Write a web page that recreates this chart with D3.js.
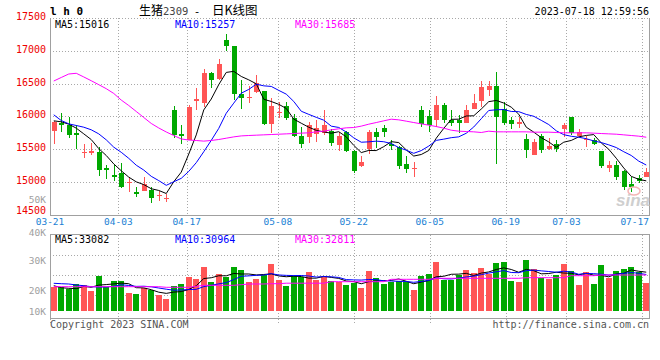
<!DOCTYPE html>
<html><head><meta charset="utf-8">
<script src="https://cdn.jsdelivr.net/npm/d3@7"></script>
<style>html,body{margin:0;padding:0;background:#fff;}svg{display:block;}</style>
</head><body><svg id="c" width="660" height="360"></svg>
<script>
// ---------- data ----------
const dates = ["03-21","03-22","03-23","03-24","03-27","03-28","03-29","03-30","03-31","04-03","04-04","04-06","04-07","04-10","04-11","04-12","04-13","04-14","04-17","04-18","04-19","04-20","04-21","04-24","04-25","04-26","04-27","04-28","05-04","05-05","05-08","05-09","05-10","05-11","05-12","05-15","05-16","05-17","05-18","05-19","05-22","05-23","05-24","05-25","05-26","05-29","05-30","05-31","06-01","06-02","06-05","06-06","06-07","06-08","06-09","06-12","06-13","06-14","06-15","06-16","06-19","06-20","06-21","06-26","06-27","06-28","06-29","06-30","07-03","07-04","07-05","07-06","07-07","07-10","07-11","07-12","07-13","07-14","07-17","07-18"];
const open = [15782,15904,15869,15742,15441,15436,15451,15207,15100,15131,14978,14846,14856,14881,14785,14749,16103,15726,15640,16235,16206,16653,16566,17157,17080,16347,16271,16368,16378,15889,16052,16159,15966,15701,15686,15731,15747,15772,15558,15752,15462,15238,15497,15752,15828,15574,15533,15278,15197,16103,16011,15940,16179,15945,15940,15904,16108,16230,16398,16469,16118,15950,15879,15660,15406,15691,15507,15569,15798,15981,15696,15645,15630,15462,15217,15263,15171,14973,15060,15080];
const high = [15920,16057,15986,15869,15574,15589,15523,15253,15253,15283,15065,14922,15080,14922,14861,14810,16164,15859,16169,16424,16725,16668,16872,17253,17080,16546,16469,16637,16378,16276,16210,16215,16037,15843,15915,15940,16088,15808,15762,15772,15487,15395,15787,15818,15864,15640,15548,15395,15294,16164,16088,16302,16205,16103,16016,16179,16347,16531,16531,16668,16210,15996,15986,15726,15660,15726,15670,15640,15894,15981,15808,15706,15670,15462,15324,15324,15187,15080,15100,15207];
const low = [15574,15767,15665,15497,15360,15401,15090,15049,15009,14902,14851,14769,14856,14673,14708,14698,15675,15579,15640,16093,16138,16429,16556,16999,16245,16108,16200,16357,15864,15742,15971,15945,15680,15513,15599,15609,15716,15548,15472,15451,15131,15222,15426,15513,15680,15482,15197,15131,15070,15838,15767,15838,15904,15854,15742,15894,16108,16139,16302,15268,15864,15803,15813,15360,15406,15436,15487,15451,15680,15716,15691,15528,15563,15207,15151,15029,14876,14841,14978,15070];
const close = [15915,15864,15711,15716,15451,15477,15177,15182,15075,14927,14993,14815,14973,14759,14795,14759,15716,15706,16139,16256,16664,16551,16805,17070,16337,16276,16291,16505,15889,16164,16062,15976,15691,15574,15859,15823,15859,15589,15691,15467,15171,15309,15752,15680,15767,15553,15238,15192,15212,15884,15859,16179,15940,15904,15894,16103,16195,16454,16469,15986,15904,15879,15915,15482,15609,15482,15553,15502,15874,15742,15757,15660,15569,15233,15263,15070,14917,14927,15009,15146];
const volume = [21323,21323,20463,22117,21886,19852,24962,21323,23209,23209,18867,18374,20992,20232,17882,15911,21555,22216,24532,23970,27840,22878,25524,24433,27840,26947,22878,23970,25194,28832,23540,21555,24863,24631,26186,23540,24433,23209,22977,21886,22448,20992,26616,24300,22216,22977,23308,22779,20232,24962,25524,29593,23540,23540,25194,26848,25954,27608,25425,29262,29494,23308,22977,30255,27079,24300,23771,25194,28832,26616,21886,26186,22216,28502,24102,26616,27278,27840,26285,22646];
const ma5Head = [15930,15915,15879,15818];
const ma10Head = [16022,15935,15884,15859,15833,15793,15731,15640,15528];
const ma30 = [16538,16592,16645,16656,16600,16542,16482,16421,16348,16247,16164,16073,15981,15890,15821,15760,15706,15653,15637,15630,15620,15630,15645,15665,15685,15700,15706,15711,15716,15721,15726,15731,15736,15742,15747,15762,15772,15792,15808,15823,15828,15849,15879,15904,15930,15955,15945,15925,15904,15884,15864,15843,15818,15787,15772,15767,15762,15752,15772,15762,15762,15762,15762,15762,15757,15757,15757,15752,15747,15747,15747,15747,15742,15736,15731,15726,15716,15706,15696,15680];
const volMa5Head = [21654,20992,20794,20662];
const volMa10Head = [22448,22316,22216,21886,21654,21323,21224,21224,21456];
const volMa30 = [21323,21323,21323,21323,21323,21323,21323,21323,21323,21323,21323,21323,21323,21323,21323,21125,21125,21125,21125,21456,21786,21786,21786,21786,21786,21985,22216,22216,22216,22316,22316,22480,22480,22480,22480,22480,22480,22977,22977,22977,22977,22977,22977,22977,22977,23771,23771,23771,23771,23771,23771,24102,24102,24102,24102,24102,24102,24102,24102,24102,24102,24102,24102,24300,24300,24300,24300,24300,24300,24962,24962,24962,24962,25194,25194,25194,25194,25194,25194,25194];
const dateTicks = ["03-21","04-03","04-17","05-08","05-22","06-05","06-19","07-03","07-17"];
const priceTicks = [14500,15000,15500,16000,16500,17000,17500];
const volTicks = [10000,20000,30000,40000,50000];
const priceLegend = [["MA5:","15016"],["MA10:","15257"],["MA30:","15685"]];
const volLegend = [["MA5:","33082"],["MA10:","30964"],["MA30:","32811"]];

// ---------- layout ----------
const L = 50, R = 650, pTop = 18, pBot = 214.5, vTop = 234.5, vBot = 318.5;
const RED = "#ff5555", GREEN = "#00a800", GRID = "#a8a8a8", FRAME = "#a0a0a0";
const lineColors = ["#000", "#0000ff", "#ff00ff"];
const MONO = "'DejaVu Sans Mono', 'Liberation Mono', monospace";

const svg = d3.select("#c");
const idx = d3.range(dates.length);
const xB = d3.scaleBand().domain(idx).range([L, R]);
const xC = i => xB(i) + xB.bandwidth() / 2;
const xG = d3.scaleLinear().domain([0, dates.length - 1]).range([L, R]);
const yP = d3.scaleLinear().domain([14500, 17500]).range([pBot, pTop]);
const yV = d3.scaleLinear().domain([10000, 20000, 50000]).range([311, 290.7, 200]);

function movingAvg(vals, n, head) {
  return vals.map((v, i) => i < n - 1 ? head[i] : d3.mean(vals.slice(i - n + 1, i + 1)));
}
const ma5 = movingAvg(close, 5, ma5Head);
const ma10 = movingAvg(close, 10, ma10Head);
const vma5 = movingAvg(volume, 5, volMa5Head);
const vma10 = movingAvg(volume, 10, volMa10Head);

// ---------- grids & frames ----------
const g = svg.append("g").attr("shape-rendering", "crispEdges");
g.selectAll(".hp").data(priceTicks.filter(v => v > 14500)).join("line")
  .attr("x1", L).attr("x2", R)
  .attr("y1", d => Math.round(yP(d)) + 0.5).attr("y2", d => Math.round(yP(d)) + 0.5)
  .attr("stroke", GRID).attr("stroke-dasharray", "1,2");
const tickIdx = dateTicks.map(d => dates.indexOf(d));
tickIdx.forEach(t => {
  const x = Math.round(xG(t)) + 0.5;
  g.append("line").attr("x1", x).attr("x2", x).attr("y1", pTop).attr("y2", pBot)
    .attr("stroke", GRID).attr("stroke-dasharray", "1,2");
  g.append("line").attr("x1", x).attr("x2", x).attr("y1", vTop).attr("y2", vBot + 4)
    .attr("stroke", GRID).attr("stroke-dasharray", "1,2");
});
[255.5, 275.5, 295.5].forEach(y => {
  g.append("line").attr("x1", L).attr("x2", R).attr("y1", y).attr("y2", y)
    .attr("stroke", GRID).attr("stroke-dasharray", "1,2");
});
g.append("path").attr("d", `M${L + 0.5},${pTop}V${pBot + 0.5}H${R - 0.5}V${pTop}`)
  .attr("fill", "none").attr("stroke", FRAME);
g.append("rect").attr("x", L + 0.5).attr("y", vTop).attr("width", R - L - 1).attr("height", vBot - vTop)
  .attr("fill", "none").attr("stroke", FRAME);

// ---------- candles ----------
const bw = 5;
const cg = svg.append("g").attr("shape-rendering", "crispEdges");
idx.forEach(i => {
  const up = close[i] >= open[i];
  const col = up ? RED : GREEN;
  const cx = Math.round(xC(i)) + 0.5;
  cg.append("line").attr("x1", cx).attr("x2", cx)
    .attr("y1", yP(high[i])).attr("y2", yP(low[i])).attr("stroke", col);
  const y1 = yP(Math.max(open[i], close[i])), y2 = yP(Math.min(open[i], close[i]));
  cg.append("rect").attr("x", cx - 0.5 - Math.floor(bw / 2)).attr("width", bw)
    .attr("y", y1).attr("height", Math.max(1, y2 - y1)).attr("fill", col);
});

// ---------- volume bars ----------
const vbw = 6;
idx.forEach(i => {
  const up = close[i] >= open[i];
  const cx = Math.round(xC(i));
  cg.append("rect").attr("x", cx - vbw / 2).attr("width", vbw)
    .attr("y", yV(volume[i])).attr("height", yV(10000) - yV(volume[i]))
    .attr("fill", up ? RED : GREEN);
});

// ---------- MA lines ----------
const lp = d3.line().x((d, i) => xC(i)).y(d => yP(d));
const lv = d3.line().x((d, i) => xC(i)).y(d => yV(d));
[ma5, ma10, ma30].forEach((s, k) => {
  svg.append("path").attr("d", lp(s)).attr("fill", "none").attr("stroke", lineColors[k]).attr("stroke-width", 1);
});
[vma5, vma10, volMa30].forEach((s, k) => {
  svg.append("path").attr("d", lv(s)).attr("fill", "none").attr("stroke", lineColors[k]).attr("stroke-width", 1);
});

// ---------- watermark ----------
svg.append("ellipse").attr("cx", 634).attr("cy", 191).attr("rx", 6).attr("ry", 4)
  .attr("fill", "none").attr("stroke", "#f5b5b5").attr("stroke-width", 1.5);
svg.append("text").attr("x", 616).attr("y", 206).text("sina")
  .attr("font-family", "Arial, 'Liberation Sans', sans-serif").attr("font-style", "italic")
  .attr("font-weight", "bold").attr("font-size", 17).attr("fill", "#cfcfcf");

// ---------- texts ----------
const t = (x, y, s, col, anchor, size, extra) => {
  const e = svg.append("text").attr("x", x).attr("y", y).text(s)
    .attr("fill", col).attr("font-family", MONO).attr("font-size", size || 10)
    .attr("text-anchor", anchor || "start");
  if (extra) extra(e);
  return e;
};
priceTicks.forEach(v => t(46, yP(v) + (v === 14500 ? -0.5 : 2), String(v), "#ee0000", "end", 10));
volTicks.forEach(v => {
  const off = v === 40000 ? 5.8 : (v === 50000 ? 2.8 : 3.5);
  t(46, yV(v) + off, (v / 1000) + "K", "#a0a0a0", "end", 9.5);
});
tickIdx.forEach((ti, k) => {
  let x = xG(ti), anchor = "middle";
  if (x + 15 > R) { x = R - 1; anchor = "end"; }
  t(x, 225, dateTicks[k], "#1a7fd4", anchor, 9.5);
});
const legX = [55, 175, 295];
priceLegend.forEach((p, k) => t(legX[k], 27.5, p[0] + p[1], lineColors[k], "start", 10));
volLegend.forEach((p, k) => t(legX[k], 242.5, p[0] + p[1], lineColors[k], "start", 10));
// header
t(50, 15, "l h 0", "#000", "start", 11, e => e.attr("font-weight", "bold"));
const CJK = "'Noto Sans CJK SC', sans-serif";
svg.append("text").attr("x", 139).attr("y", 15).text("生猪")
  .attr("font-family", CJK).attr("font-size", 12).attr("fill", "#000");
t(163, 15, "2309", "#444", "start", 10.5);
t(197, 14.5, "-", "#000", "middle", 11);
svg.append("text").attr("x", 212).attr("y", 15).text("日K线图")
  .attr("font-family", CJK).attr("font-size", 12.5).attr("fill", "#000");
t(649, 15, "2023-07-18 12:59:56", "#000", "end", 10);
t(50, 328, "Copyright 2023 SINA.COM", "#555", "start", 10);
t(649, 328, "http://finance.sina.com.cn", "#555", "end", 10);
</script></body></html>
